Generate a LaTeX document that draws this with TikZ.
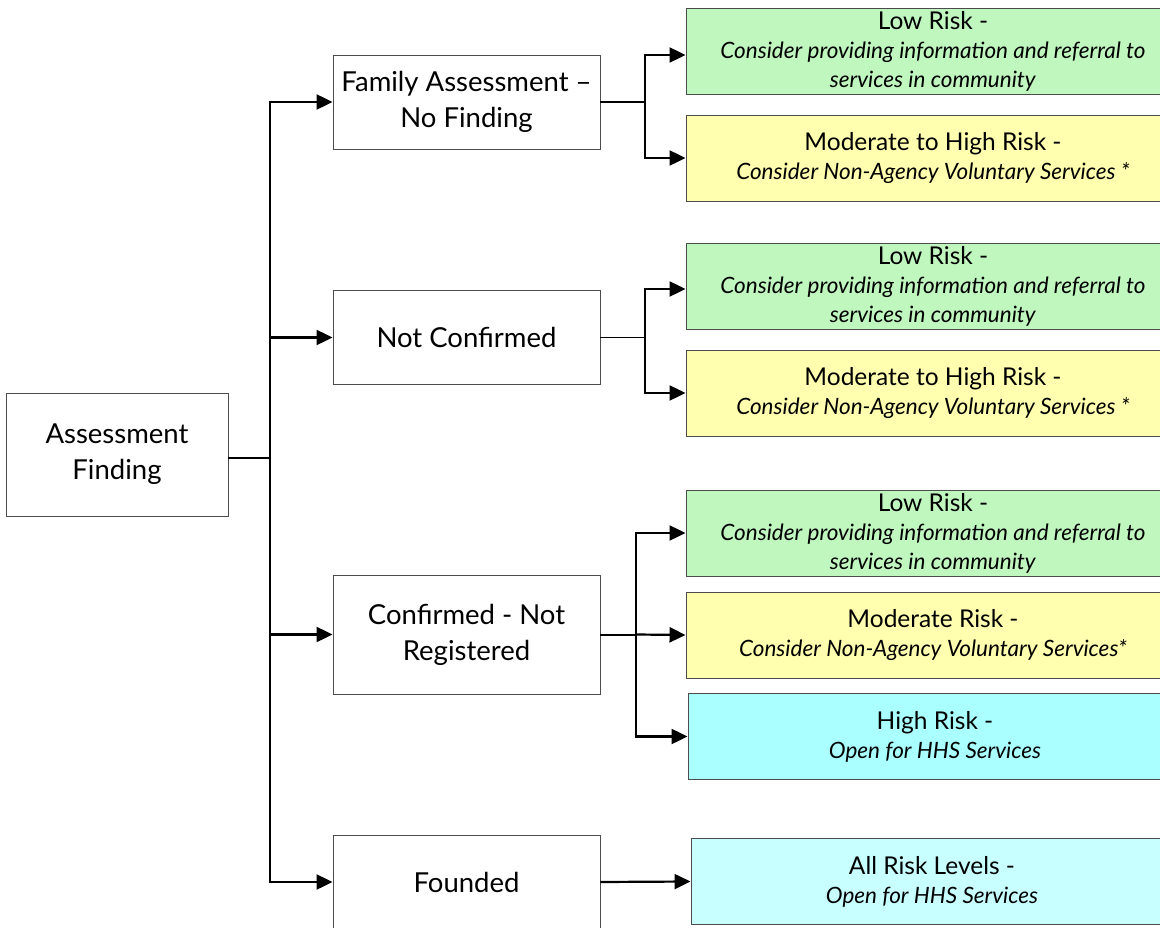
\documentclass[tikz,border=0pt]{standalone}
\usepackage{fontspec}
\setmainfont{Lato}
\usetikzlibrary{arrows.meta}
\definecolor{lowrisk}{HTML}{BFF7BF}
\definecolor{modrisk}{HTML}{FFFFAF}
\definecolor{highrisk}{HTML}{AAFFFF}
\definecolor{allrisk}{HTML}{C8FFFF}
\tikzset{
    findbox/.style={draw=black!70, fill=white, line width=0.9pt, align=center,
        minimum width=267pt, minimum height=94pt, inner sep=0pt,
        font=\fontsize{27.5}{36}\selectfont},
    riskbox/.style={draw=black!70, line width=0.9pt, align=center,
        minimum width=494pt, minimum height=86pt, inner sep=0pt,
        font=\fontsize{22.5}{29}\selectfont},
    link/.style={line width=2pt},
    thinlink/.style={line width=1.3pt},
    linkto/.style={line width=2.2pt, -{Triangle[length=16pt,width=15pt]}}
}
\newcommand{\riskhead}[1]{{\fontsize{24.5}{29}\selectfont #1}}
\begin{document}
\begin{tikzpicture}[x=1pt, y=-1pt]
    \useasboundingbox (0,0) rectangle (1160,928);
    \clip (0,0) rectangle (1160,928);
    \node[findbox, minimum width=222pt, minimum height=123pt] (assess) at (117, 454.5) {Assessment\\Finding};
    \node[findbox] (family) at (466.5, 102) {Family Assessment --\\No Finding};
    \node[findbox] (notconf) at (466.5, 337.5) {Not Confirmed};
    \node[findbox, minimum height=119pt] (confirmed) at (466.5, 634.5) {Confirmed - Not\\Registered};
    \node[findbox] (founded) at (466.5, 882) {Founded};

    \node[riskbox, fill=lowrisk] (lowa) at (933, 51.5) {\riskhead{Low Risk -}\\\textit{Consider providing information and referral to}\\\textit{services in community}};
    \node[riskbox, fill=modrisk] (moda) at (933, 158) {\riskhead{Moderate to High Risk -}\\\textit{Consider Non-Agency Voluntary Services *}};
    \node[riskbox, fill=lowrisk] (lowb) at (933, 286) {\riskhead{Low Risk -}\\\textit{Consider providing information and referral to}\\\textit{services in community}};
    \node[riskbox, fill=modrisk] (modb) at (933, 393) {\riskhead{Moderate to High Risk -}\\\textit{Consider Non-Agency Voluntary Services *}};
    \node[riskbox, fill=lowrisk] (lowc) at (933, 533) {\riskhead{Low Risk -}\\\textit{Consider providing information and referral to}\\\textit{services in community}};
    \node[riskbox, fill=modrisk] (modc) at (933, 635) {\riskhead{Moderate Risk -}\\\textit{Consider Non-Agency Voluntary Services*}};
    \node[riskbox, fill=highrisk] (highc) at (935, 736.5) {\riskhead{High Risk -}\\\textit{Open for HHS Services}};
    \node[riskbox, fill=allrisk, minimum width=482pt] (allr) at (932, 881.5) {\riskhead{All Risk Levels -}\\\textit{Open for HHS Services}};

    \coordinate (trunk) at (270, 458);
    \draw[link] (assess.east |- trunk) -- (trunk);
    \draw[linkto] (trunk) |- (family.west);
    \draw[linkto] (trunk) |- (notconf.west);
    \draw[linkto] (trunk) |- (confirmed.west);
    \draw[linkto] (trunk) |- (founded.west);

    \coordinate (splita) at (645, 102);
    \draw[thinlink] (family.east) -- (splita);
    \draw[linkto] (splita) |- (lowa.west |- 0,55);
    \draw[linkto] (splita) |- (moda.west);

    \coordinate (splitb) at (645, 337.5);
    \draw[thinlink] (notconf.east) -- (splitb);
    \draw[linkto] (splitb) |- (lowb.west |- 0,289);
    \draw[linkto] (splitb) |- (modb.west);

    \coordinate (splitc) at (636, 634.5);
    \draw[link] (confirmed.east) -- (splitc);
    \draw[linkto] (splitc) |- (lowc.west);
    \draw[linkto] (splitc) -- (modc.west);
    \draw[linkto] (splitc) |- (highc.west);

    \draw[linkto] (founded.east) -- (allr.west);
\end{tikzpicture}
\end{document}
